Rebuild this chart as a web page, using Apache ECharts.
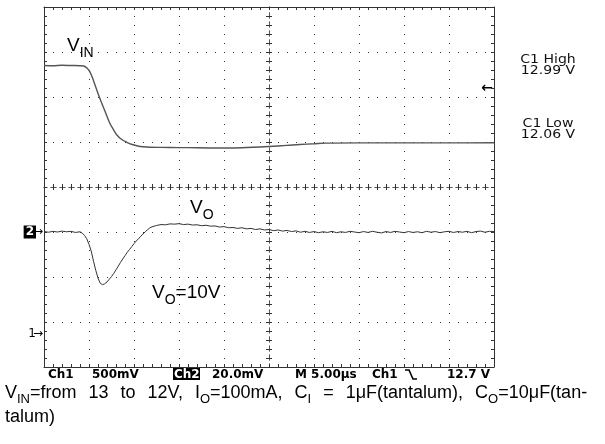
<!DOCTYPE html>
<html><head><meta charset="utf-8">
<script src="https://cdn.jsdelivr.net/npm/echarts@6/dist/echarts.min.js"></script>
<style>html,body{margin:0;padding:0;background:#fff}#c{width:605px;height:444px}</style>
</head><body><div id="c"></div>
<script>
// ---- data (time in µs, 5 µs/div) ----
const timeRange = [0, 50];
const ch1Range = [9.6, 13.6];      // V, 500 mV/div
const ch2Range = [-60, 100];       // mV around 10 V, 20 mV/div

const vinTime  = [0, 1, 2, 3, 4, 4.4, 4.8, 5.1, 5.4, 5.67, 6.2, 6.8, 7.3, 7.7, 8.1, 8.6, 9.2, 9.8, 10.3, 11, 11.8, 13, 15, 17, 20, 22, 25, 27, 28.4, 30, 31.3, 35, 40, 45, 50];
const vinVolts = [12.95, 12.948, 12.952, 12.95, 12.948, 12.945, 12.92, 12.88, 12.81, 12.733, 12.586, 12.437, 12.311, 12.24, 12.178, 12.13, 12.097, 12.072, 12.059, 12.047, 12.041, 12.04, 12.038, 12.036, 12.033, 12.036, 12.05, 12.062, 12.072, 12.08, 12.087, 12.09, 12.09, 12.09, 12.091];

const voTime = [0,0.5,1,1.5,2,2.5,3,3.5,4,4.25,4.5,4.75,5,5.25,5.5,5.75,6,6.25,6.5,6.75,7,7.25,7.5,7.75,8,8.25,8.5,8.75,9,9.25,9.5,9.75,10,10.25,10.5,10.75,11,11.25,11.5,11.75,12,12.5,13,13.5,14,14.5,15,15.5,16,16.5,17,17.5,18,18.5,19,19.5,20,20.5,21,21.5,22,22.5,23,23.5,24,24.5,25,25.5,26,26.5,27,27.5,28,28.5,29,29.5,30,30.5,31,31.5,32,32.5,33,33.5,34,34.5,35,35.5,36,36.5,37,37.5,38,38.5,39,39.5,40,40.5,41,41.5,42,42.5,43,43.5,44,44.5,45,45.5,46,46.5,47,47.5,48,48.5,49,49.5,50];
const voMilliVolts = [0.2,-0.1,0.3,0,0.4,0.1,0.3,-0.2,0.1,-0.5,-1.5,-3,-5.5,-8.5,-13,-17,-20.5,-22.8,-23.4,-23,-22.2,-21,-19.8,-18.4,-16.8,-15.2,-13.5,-12,-10.5,-9,-7.8,-6.5,-5.2,-4,-3,-1.9,-0.9,0.1,1,1.8,2.3,2.9,3.3,3.2,3.6,3.5,3.7,3.3,3.5,3.1,3.2,2.8,3,2.6,2.7,2.2,2.4,1.9,2,1.6,1.9,1.4,1.6,1.1,1.4,0.9,1.1,0.6,0.9,0.4,0.7,0.2,0.5,-0.1,0.3,-0.2,0.2,-0.3,0.1,-0.2,0.3,-0.3,0.1,-0.2,0.3,0,-0.3,0.2,-0.2,0.3,-0.1,-0.4,0.2,-0.2,0.3,0,-0.3,0.2,-0.2,0.1,-0.3,0.3,-0.1,0.2,-0.3,0.1,0.3,-0.2,0.2,-0.1,0.3,-0.3,0.2,0.4,-0.1,0.3,0.2];

const trigLevel = 12.7;   // V, Ch1 trigger
const ch1Marker = 9.97;   // V, "1" reference marker
const ch2Marker = 0;      // mV, "2" reference marker

const statusTexts = ['Ch1', '500mV', 'Ch2', '20.0mV', 'M 5.00µs', 'Ch1', '12.7 V'];
const measTexts = ['C1 High', '12.99 V', 'C1 Low', '12.06 V'];

// ---- chart ----
const chart = echarts.init(document.getElementById('c'), null, {renderer: 'canvas'});
const GRID = '#333';
const dotted = {color: GRID, width: 1, type: [1, 8]};
const centerLine = {color: '#555', width: 1, type: [5, 4], dashOffset: 2};
const frameAxisX = (pos) => ({
  type: 'value', min: timeRange[0], max: timeRange[1], interval: 5, position: pos,
  axisLine: {show: true, onZero: false, lineStyle: {color: GRID, width: 1}},
  axisTick: {show: true, inside: true, length: 3, lineStyle: {color: GRID}},
  minorTick: {show: true, splitNumber: 5, length: 3, lineStyle: {color: GRID}},
  axisLabel: {show: false}, splitLine: {show: pos === 'bottom', lineStyle: dotted}
});
const centerX = (inside) => ({
  type: 'value', min: timeRange[0], max: timeRange[1], interval: 5, position: 'bottom',
  axisLine: {show: true, onZero: true, onZeroAxisIndex: 2, lineStyle: centerLine},
  axisTick: {show: true, inside: inside, length: 3, lineStyle: {color: GRID}},
  minorTick: {show: true, splitNumber: 5, length: 3, lineStyle: {color: GRID}},
  axisLabel: {show: false}, splitLine: {show: false}
});
const centerY = (inside) => ({
  type: 'value', min: 0, max: 8, interval: 1, position: 'left',
  axisLine: {show: true, onZero: true, onZeroAxisIndex: 4, lineStyle: centerLine},
  axisTick: {show: true, inside: inside, length: 3, lineStyle: {color: GRID}},
  minorTick: {show: true, splitNumber: 5, length: 3, lineStyle: {color: GRID}},
  axisLabel: {show: false}, splitLine: {show: false}
});

const zip = (a, b) => a.map((v, i) => [v, b[i]]);

chart.setOption({
  animation: false,
  backgroundColor: '#fff',
  grid: {left: 44, top: 7, width: 450, height: 360, containLabel: false, show: false},
  xAxis: [
    frameAxisX('bottom'),
    frameAxisX('top'),
    centerX(true),
    centerX(false),
    {type: 'value', min: -25, max: 25, show: false}
  ],
  yAxis: [
    {type: 'value', min: ch1Range[0], max: ch1Range[1], interval: 0.5, position: 'left',
     axisLine: {show: true, onZero: false, lineStyle: {color: GRID, width: 1}},
     axisTick: {show: true, inside: true, length: 3, lineStyle: {color: GRID}},
     minorTick: {show: true, splitNumber: 5, length: 3, lineStyle: {color: GRID}},
     axisLabel: {show: false}, splitLine: {show: true, lineStyle: dotted}},
    {type: 'value', min: ch2Range[0], max: ch2Range[1], interval: 20, position: 'right',
     axisLine: {show: true, onZero: false, lineStyle: {color: GRID, width: 1}},
     axisTick: {show: true, inside: true, length: 3, lineStyle: {color: GRID}},
     minorTick: {show: true, splitNumber: 5, length: 3, lineStyle: {color: GRID}},
     axisLabel: {show: false}, splitLine: {show: false}},
    {type: 'value', min: -4, max: 4, show: false},
    centerY(true),
    centerY(false)
  ],
  series: [
    {name: 'VIN', type: 'line', xAxisIndex: 0, yAxisIndex: 0, data: zip(vinTime, vinVolts),
     showSymbol: false, smooth: 0.3, lineStyle: {color: '#555', width: 1.4}, z: 5},
    {name: 'VO', type: 'line', xAxisIndex: 0, yAxisIndex: 1, data: zip(voTime, voMilliVolts),
     showSymbol: false, lineStyle: {color: '#333', width: 1}, z: 5}
  ]
});

const p1 = (t, v) => chart.convertToPixel({xAxisIndex: 0, yAxisIndex: 0}, [t, v]);
const p2 = (t, v) => chart.convertToPixel({xAxisIndex: 0, yAxisIndex: 1}, [t, v]);
const left = p1(timeRange[0], ch1Range[0]);
const trig = p1(timeRange[1], trigLevel);
const m1 = p1(timeRange[0], ch1Marker);
const m2 = p2(timeRange[0], ch2Marker);

const LAB = 'Liberation Sans, Arial, sans-serif';
const richLabel = {
  n: {fontSize: 19, fontFamily: LAB, lineHeight: 20, padding: [0, 0, 5, 0], verticalAlign: 'bottom', color: '#000'},
  s: {fontSize: 14, fontFamily: LAB, lineHeight: 15, verticalAlign: 'bottom', color: '#000'}
};
const richCap = {
  n: {fontSize: 18, fontFamily: LAB, lineHeight: 24, padding: [0, 0, 4, 0], verticalAlign: 'bottom', color: '#000'},
  s: {fontSize: 13, fontFamily: LAB, lineHeight: 14, verticalAlign: 'bottom', color: '#000'},
  w: {fontSize: 18, fontFamily: LAB, lineHeight: 24, padding: [0, 0, 4, 0], verticalAlign: 'bottom', width: 12}
};
const SCOPE = 'DejaVu Sans, Verdana, sans-serif';
const st = (txt, x, extra) => ({type: 'text', x: x, y: left[1] + 2, z: 100,
  style: Object.assign({text: txt, font: 'bold 12px ' + SCOPE, fill: '#000'}, extra || {})});
const meas = (txt, y) => ({type: 'text', x: 548, y: y, scaleX: 1.08, originX: 0,
  style: {text: txt, font: '13px ' + SCOPE, fill: '#111', align: 'center', verticalAlign: 'top'}});

chart.setOption({
  graphic: [
    {type: 'text', x: 67, y: 40, style: {text: '{n|V}{s|IN}', rich: richLabel, verticalAlign: 'top'}},
    {type: 'text', x: 190, y: 202, style: {text: '{n|V}{s|O}', rich: richLabel, verticalAlign: 'top'}},
    {type: 'text', x: 152, y: 287, style: {text: '{n|V}{s|O}{n|=10V}', rich: richLabel, verticalAlign: 'top'}},
    {type: 'text', x: 5, y: 382, style: {
      text: '{n|V}{s|IN}{n|=from}{w| }{n|13}{w| }{n|to}{w| }{n|12V,}{w| }{n|I}{s|O}{n|=100mA,}{w| }{n|C}{s|I}{w| }{n|=}{w| }{n|1μF(tantalum),}{w| }{n|C}{s|O}{n|=10μF(tan-}\n{n|talum)}',
      rich: richCap, verticalAlign: 'top'}},
    // status line
    st(statusTexts[0], 48),
    st(statusTexts[1], 92),
    {type: 'rect', z: 99, shape: {x: 173, y: left[1] + 1, width: 27, height: 12}, style: {fill: '#000'}},
    st(statusTexts[2], 174, {fill: '#fff'}),
    st(statusTexts[3], 212),
    st(statusTexts[4], 295),
    st(statusTexts[5], 372),
    {type: 'polyline', shape: {points: [[405, left[1] + 3], [409, left[1] + 3], [413, left[1] + 12], [417, left[1] + 12]]},
     style: {stroke: '#000', lineWidth: 1.6, fill: null}},
    st(statusTexts[6], 447),
    // measurements
    meas(measTexts[0], 53), meas(measTexts[1], 64), meas(measTexts[2], 117), meas(measTexts[3], 128),
    // trigger level arrow
    {type: 'text', x: trig[0] - 1, y: trig[1], style: {text: '←', font: 'bold 14px ' + SCOPE, fill: '#000', align: 'right', verticalAlign: 'middle'}},
    // reference markers
    {type: 'text', x: m2[0] - 8, y: m2[1], style: {text: '2', font: 'bold 12px ' + SCOPE, fill: '#fff', backgroundColor: '#000', padding: [1, 2, 0, 2], align: 'right', verticalAlign: 'middle'}},
    {type: 'text', x: m2[0] - 1, y: m2[1], style: {text: '→', font: '12px ' + SCOPE, fill: '#000', align: 'right', verticalAlign: 'middle'}},
    {type: 'text', x: m1[0] - 8, y: m1[1], style: {text: '1', font: '12px ' + SCOPE, fill: '#000', align: 'right', verticalAlign: 'middle'}},
    {type: 'text', x: m1[0] - 1, y: m1[1], style: {text: '→', font: '12px ' + SCOPE, fill: '#000', align: 'right', verticalAlign: 'middle'}}
  ]
});
</script>
</body></html>
